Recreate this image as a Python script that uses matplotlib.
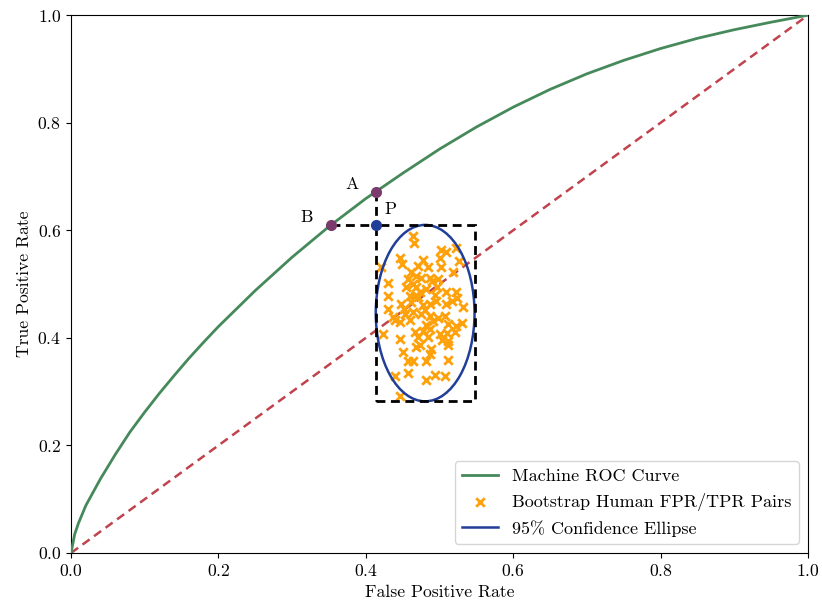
import numpy as np
import matplotlib
matplotlib.use("Agg")
import matplotlib.pyplot as plt
from matplotlib.patches import Ellipse, Rectangle

plt.rcParams['font.family'] = 'serif'
plt.rcParams['font.serif'] = ['cmr10']
plt.rcParams['mathtext.fontset'] = 'cm'
plt.rcParams['axes.formatter.use_mathtext'] = True
plt.rcParams['axes.unicode_minus'] = False

# machine ROC curve
roc_fpr = [0.0, 0.005, 0.01, 0.02, 0.03, 0.04, 0.06, 0.08, 0.10, 0.12,
           0.14, 0.16, 0.18, 0.20, 0.25, 0.30, 0.35, 0.40, 0.45, 0.50,
           0.55, 0.60, 0.65, 0.70, 0.75, 0.80, 0.85, 0.90, 0.95, 1.0]
roc_tpr = [0.0, 0.035, 0.055, 0.088, 0.113, 0.138, 0.183, 0.225, 0.262, 0.297,
           0.330, 0.362, 0.392, 0.421, 0.488, 0.550, 0.607, 0.659, 0.706, 0.751,
           0.792, 0.829, 0.862, 0.891, 0.916, 0.938, 0.957, 0.973, 0.987, 1.0]

# bootstrap human (FPR, TPR) pairs
boot_fpr = [0.464, 0.465, 0.502, 0.509, 0.522, 0.501, 0.527, 0.421, 0.446, 0.449,
            0.478, 0.471, 0.461, 0.468, 0.457, 0.475, 0.487, 0.498, 0.430, 0.464,
            0.430, 0.455, 0.468, 0.482, 0.497, 0.509, 0.522, 0.448, 0.461, 0.471,
            0.487, 0.495, 0.509, 0.532, 0.430, 0.453, 0.464, 0.475, 0.487, 0.480,
            0.508, 0.437, 0.446, 0.491, 0.522, 0.511, 0.423, 0.467, 0.478, 0.487,
            0.501, 0.521, 0.471, 0.446, 0.511, 0.484, 0.450, 0.468, 0.488, 0.487,
            0.511, 0.457, 0.464, 0.482, 0.511, 0.440, 0.457, 0.482, 0.494, 0.508,
            0.446, 0.524, 0.478, 0.510, 0.460, 0.474, 0.494, 0.517, 0.498, 0.460,
            0.482, 0.503, 0.474, 0.440, 0.452, 0.502, 0.484, 0.531, 0.518, 0.467,
            0.490]
boot_tpr = [0.589, 0.576, 0.563, 0.559, 0.567, 0.548, 0.543, 0.532, 0.548, 0.537,
            0.545, 0.533, 0.522, 0.515, 0.509, 0.511, 0.511, 0.509, 0.502, 0.500,
            0.478, 0.494, 0.494, 0.491, 0.494, 0.485, 0.485, 0.463, 0.467, 0.476,
            0.463, 0.468, 0.463, 0.457, 0.454, 0.444, 0.448, 0.444, 0.441, 0.452,
            0.441, 0.439, 0.429, 0.431, 0.422, 0.426, 0.407, 0.411, 0.413, 0.416,
            0.407, 0.411, 0.401, 0.398, 0.394, 0.401, 0.374, 0.383, 0.379, 0.370,
            0.387, 0.357, 0.357, 0.357, 0.359, 0.329, 0.335, 0.322, 0.331, 0.329,
            0.292, 0.474, 0.461, 0.409, 0.478, 0.485, 0.480, 0.468, 0.437, 0.433,
            0.424, 0.396, 0.387, 0.433, 0.454, 0.532, 0.532, 0.428, 0.522, 0.478,
            0.505]

# 95% confidence ellipse (axis aligned)
ell_center = (0.4805, 0.446)
ell_width = 0.134
ell_height = 0.328

ell_left = ell_center[0] - ell_width / 2
ell_right = ell_center[0] + ell_width / 2
ell_bottom = ell_center[1] - ell_height / 2
ell_top = ell_center[1] + ell_height / 2

# P = corner of ellipse box, A / B = ROC points at same FPR / TPR
p_pt = (ell_left, ell_top)
a_pt = (ell_left, np.interp(ell_left, roc_fpr, roc_tpr))
b_pt = (np.interp(ell_top, roc_tpr, roc_fpr), ell_top)

fig = plt.figure(figsize=(8.22, 6.07), dpi=100)
ax = fig.add_axes([0.0864, 0.089, 0.8966, 0.886])

ax.plot(roc_fpr, roc_tpr, color='#46895b', lw=2, label='Machine ROC Curve', zorder=3)
ax.plot([0, 1], [0, 1], color='#c0434d', lw=1.8, ls=(0, (3.5, 2.2)), zorder=2)
ax.scatter(boot_fpr, boot_tpr, marker='x', color='#ffa10a', s=38, linewidths=2,
           label='Bootstrap Human FPR/TPR Pairs', zorder=4)

ell = Ellipse(ell_center, ell_width, ell_height, angle=0, fill=False,
              edgecolor='#213f98', lw=1.8, zorder=5)
ax.add_patch(ell)
# legend shows the ellipse as a line
ax.plot([], [], color='#213f98', lw=1.8, label='95% Confidence Ellipse')

dash = (0, (3.2, 2.0))
rect = Rectangle((ell_left, ell_bottom), ell_width, ell_height, fill=False,
                 edgecolor='black', lw=2, ls=dash, zorder=5)
ax.add_patch(rect)
ax.plot([b_pt[0], p_pt[0]], [b_pt[1], p_pt[1]], color='black', lw=2, ls=dash, zorder=5)
ax.plot([a_pt[0], p_pt[0]], [a_pt[1], p_pt[1]], color='black', lw=2, ls=dash, zorder=5)

ax.plot(*a_pt, 'o', color='#7a3a6c', ms=7, zorder=6)
ax.plot(*b_pt, 'o', color='#7a3a6c', ms=7, zorder=6)
ax.plot(*p_pt, 'o', color='#213f98', ms=7, zorder=6)
ax.annotate('A', a_pt, xytext=(-22, 2), textcoords='offset points', fontsize=12.7)
ax.annotate('B', b_pt, xytext=(-22, 2), textcoords='offset points', fontsize=12.7)
ax.annotate('P', p_pt, xytext=(6, 8), textcoords='offset points', fontsize=12.7)

ax.set_xlim(0, 1)
ax.set_ylim(0, 1)
ax.set_xlabel('False Positive Rate', fontsize=12.7)
ax.set_ylabel('True Positive Rate', fontsize=12.7)
ax.tick_params(labelsize=12.7)
ax.legend(loc='lower right', fontsize=13)

fig.savefig('out.png', dpi=100)
